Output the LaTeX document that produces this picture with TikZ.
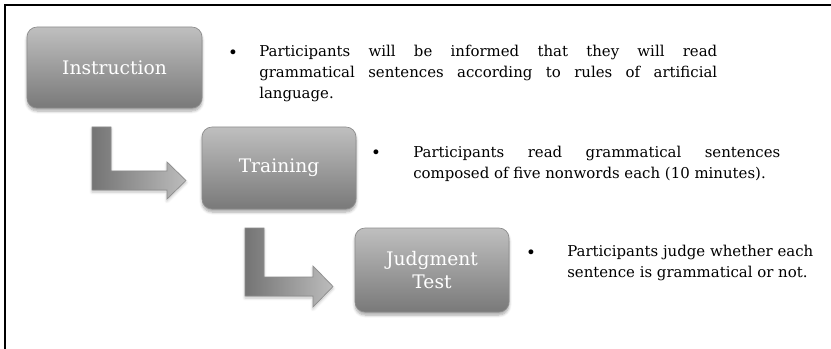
\documentclass[tikz,border=0pt]{standalone}
\usepackage{fontspec}
\setmainfont{DejaVu Serif}
\usetikzlibrary{shadows.blur}
\newlength\px \setlength\px{0.75pt}
\definecolor{boxtop}{HTML}{BFBFBF}
\definecolor{boxbot}{HTML}{797979}
\definecolor{boxline}{HTML}{8C8C8C}
\definecolor{arrdark}{HTML}{747474}
\definecolor{arrlight}{HTML}{BCBCBC}
\tikzset{
    stage/.style={rounded corners=10\px, top color=boxtop, bottom color=boxbot,
        draw=boxline, line width=0.5pt, text=white, align=center,
        font=\fontsize{14}{17.25}\selectfont,
        blur shadow={shadow xshift=0pt, shadow yshift=-3\px, shadow opacity=35, shadow blur steps=6}},
    blockarrow/.style={left color=arrdark, right color=arrlight, draw=boxline, line width=0.5pt,
        blur shadow={shadow xshift=0pt, shadow yshift=-2\px, shadow opacity=25, shadow blur steps=5}},
    % base = baseline of the last line
    note/.style={anchor=base west, inner sep=0pt, align=left, font=\fontsize{11.2}{15.75}\selectfont},
    dot/.style={anchor=base, inner sep=0pt, font=\fontsize{12.5}{15.75}\selectfont}
}

\begin{document}
\begin{tikzpicture}[x=0.75pt, y=-0.75pt]
    \useasboundingbox (0,0) rectangle (831,349);
    % frame edges
    \draw[line width=2\px] (5,349) -- (5,5.5) -- (831,5.5);

    % the three stages
    \node[stage, minimum width=175\px, minimum height=81\px] (instr) at (114.5,67.5) {Instruction};
    \node[stage, minimum width=154\px, minimum height=82\px] (train) at (279,168) {Training};
    \node[stage, minimum width=154\px, minimum height=84\px] (judge) at (432,270) {Judgment\\Test};

    % bent block arrows
    \path[blockarrow] (92,127) -- (111,127) -- (111,171) -- (167,171) -- (167,162) -- (186,180.5)
        -- (167,199) -- (167,190) -- (92,190) -- cycle;
    \path[blockarrow] (245,228) -- (264,228) -- (264,277) -- (313,277) -- (313,266) -- (333,286.5)
        -- (313,307) -- (313,296) -- (245,296) -- cycle;

    % notes beside each stage
    \node[dot] (d1) at (233,59) {\textbullet};
    \node[note] (instrtxt) at (259,99) {\makebox[458\px][s]{Participants will be informed that they will read}\\
        \makebox[458\px][s]{grammatical sentences according to rules of artificial}\\
        language.};
    \node[dot] (d2) at (376,159) {\textbullet};
    \node[note] (traintxt) at (413,178) {\makebox[367\px][s]{Participants read grammatical sentences}\\
        composed of five nonwords each (10 minutes).};
    \node[dot] (d3) at (531,258) {\textbullet};
    \node[note] (judgetxt) at (567,277) {Participants judge whether each\\
        sentence is grammatical or not.};
\end{tikzpicture}
\end{document}
